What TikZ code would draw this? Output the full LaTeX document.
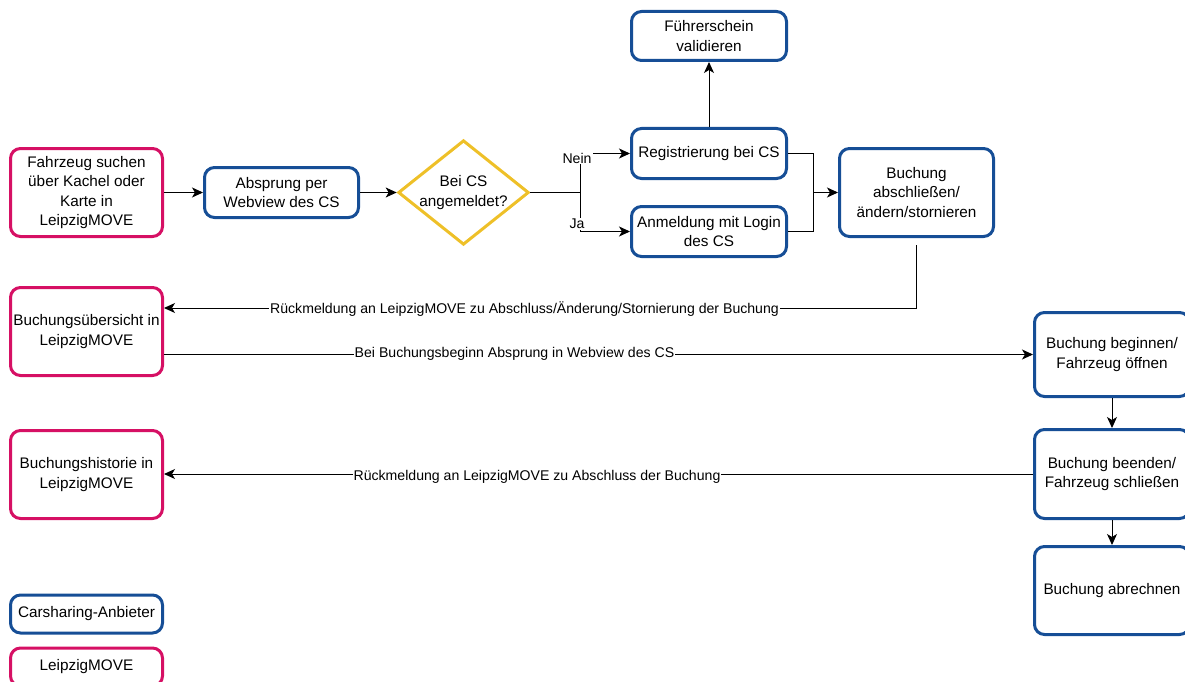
\documentclass[tikz,border=0pt]{standalone}
\usepackage{fontspec}
\setmainfont{Liberation Sans}
\usetikzlibrary{shapes.geometric,arrows.meta}
\definecolor{csblue}{RGB}{22,78,150}
\definecolor{lmpink}{RGB}{214,16,100}
\definecolor{dyellow}{RGB}{238,192,40}
\begin{document}
\begin{tikzpicture}[x=1pt,y=-1pt,
 box/.style={draw, rounded corners=10pt, line width=3pt, align=center, inner sep=2pt,
   font=\fontsize{15.3}{19.5}\selectfont, fill=white},
 csbox/.style={box, draw=csblue},
 lmbox/.style={box, draw=lmpink},
 decision/.style={diamond, draw=dyellow, line width=3pt, align=center, inner sep=0pt,
   aspect=1.25, minimum width=128pt, minimum height=102pt, font=\fontsize{15.3}{19.5}\selectfont},
 conn/.style={line width=1pt, -{Stealth[length=11pt,width=10pt,inset=3pt]}},
 plain/.style={line width=1pt},
 lbl/.style={fill=white, inner sep=1pt, font=\fontsize{14.1}{16}\selectfont},
]
\useasboundingbox (0,0) rectangle (1185,682);

% nodes
\node[lmbox, minimum width=152pt, minimum height=88pt] (suchen) at (86.5,192.5)
  {Fahrzeug suchen\\über Kachel oder\\Karte in\\LeipzigMOVE};
\node[csbox, minimum width=154pt, minimum height=50pt] (absprung) at (281.5,192.5)
  {Absprung per\\Webview des CS};
\node[decision] (dec) at (463.5,192.5) {Bei CS\\angemeldet?};
\node[csbox, minimum width=155pt, minimum height=50pt] (regist) at (709,153.5)
  {Registrierung bei CS};
\node[csbox, minimum width=155pt, minimum height=50pt] (anmeld) at (709,231.5)
  {Anmeldung mit Login\\des CS};
\node[csbox, minimum width=155pt, minimum height=49pt] (fuehr) at (709,36)
  {Führerschein\\validieren};
\node[csbox, minimum width=154pt, minimum height=88pt] (abschl) at (916.5,192.5)
  {Buchung\\abschließen/\\ändern/stornieren};
\node[lmbox, minimum width=152pt, minimum height=88pt] (uebers) at (86.5,331.5)
  {Buchungsübersicht in\\LeipzigMOVE};
\node[csbox, minimum width=155pt, minimum height=84pt] (beginn) at (1112,354.5)
  {Buchung beginnen/\\Fahrzeug öffnen};
\node[csbox, minimum width=155pt, minimum height=89pt] (beenden) at (1112,474)
  {Buchung beenden/\\Fahrzeug schließen};
\node[csbox, minimum width=155pt, minimum height=88pt] (abrech) at (1112,590.5)
  {Buchung abrechnen};
\node[lmbox, minimum width=152pt, minimum height=88pt] (hist) at (86.5,474.5)
  {Buchungshistorie in\\LeipzigMOVE};
\node[csbox, minimum width=152pt, minimum height=38pt] (leg1) at (86.5,614)
  {Carsharing-Anbieter};
\node[lmbox, minimum width=152pt, minimum height=38pt] (leg2) at (86.5,667)
  {LeipzigMOVE};

% connectors
\draw[conn] (suchen) -- (absprung);
\draw[conn] (absprung) -- (dec);
\coordinate (split) at (580,192.5);
\draw[plain] (dec.east) -- (split);
\draw[conn] (split) |- node[lbl, pos=0.5, xshift=-3pt, yshift=-4.5pt] {Nein} (regist.west);
\draw[conn] (split) |- node[lbl, pos=0.5, xshift=-3pt, yshift=7.5pt] {Ja} (anmeld.west);
\draw[conn] (regist) -- (fuehr);
\coordinate (merge) at (813,192.5);
\draw[plain] (regist.east) -| (merge);
\draw[plain] (anmeld.east) -| (merge);
\draw[conn] (merge) -- (abschl.west);

\draw[conn] ([yshift=-7pt]abschl.south) |- ([yshift=23.5pt]uebers.east);
\node[lbl] (l1) at (524.5,309.5)
  {Rückmeldung an LeipzigMOVE zu Abschluss/Änderung/Stornierung der Buchung};
\draw[conn] (uebers.east |- beginn.west) -- (beginn.west);
\node[lbl] (l2) at (514.5,353.5) {Bei Buchungsbeginn Absprung in Webview des CS};
\draw[conn] (beginn) -- (beenden);
\draw[conn] (beenden.west) -- (hist.east |- beenden.west);
\node[lbl] (l3) at (537,477) {Rückmeldung an LeipzigMOVE zu Abschluss der Buchung};
\draw[conn] (beenden) -- (abrech);
\end{tikzpicture}
\end{document}
